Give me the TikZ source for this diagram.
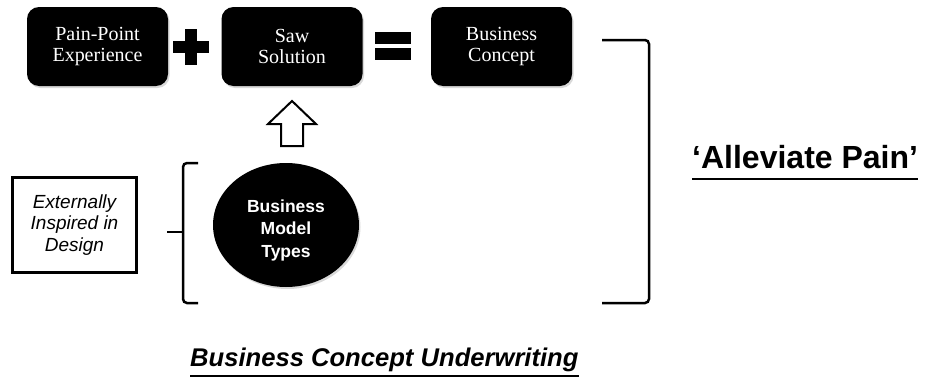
\documentclass[tikz,border=0pt]{standalone}
\usepackage{fontspec}
\setmainfont{Liberation Serif}
\setsansfont{Liberation Sans}
\usetikzlibrary{shapes.geometric,shadows}

\begin{document}
\begin{tikzpicture}[x=1pt, y=-1pt,
    step box/.style={fill=black, text=white, rounded corners=12pt, minimum width=141pt, minimum height=79pt,
        align=center, font=\fontsize{20}{21}\selectfont, inner sep=0pt,
        drop shadow={shadow xshift=1.5pt, shadow yshift=-2pt, opacity=.3}},
    bracket line/.style={line width=2.5pt, rounded corners=4pt},
    sign bar/.style={fill=black}]

\useasboundingbox (0,0) rectangle (935,383);

% top row
\node[step box] (pain) at (97.5,46.5) {Pain-Point\\Experience};
\node[step box] (saw) at (292,46.5) {Saw\\Solution};
\node[step box] (concept) at (501.5,46.5) {Business\\Concept};

% plus and equals
\coordinate (plus) at (191,46.5);
\fill[sign bar] ([xshift=-18pt,yshift=6pt]plus) rectangle ([xshift=18pt,yshift=-6pt]plus);
\fill[sign bar] ([xshift=-6pt,yshift=18pt]plus) rectangle ([xshift=6pt,yshift=-18pt]plus);
\coordinate (equals) at (393,46);
\fill[sign bar] ([xshift=-18pt,yshift=14pt]equals) rectangle ([xshift=18pt,yshift=2pt]equals);
\fill[sign bar] ([xshift=-18pt,yshift=-2pt]equals) rectangle ([xshift=18pt,yshift=-14pt]equals);

% hollow arrow up to the solution
\coordinate (tip) at (292,101);
\draw[line width=2pt, fill=white, line join=miter]
    (tip) -- ++(24,23) -- ++(-13,0) -- ++(0,22) -- ++(-22,0) -- ++(0,-22) -- ++(-13,0) -- cycle;

% lower part
\node[ellipse, fill=black, minimum width=146pt, minimum height=124pt, inner sep=0pt,
    drop shadow={shadow xshift=1.5pt, shadow yshift=-2pt, opacity=.3}] (types) at (286,225) {};
\node[text=white, align=center, font=\sffamily\bfseries\fontsize{17.5}{22.5}\selectfont]
    (typestext) at ([yshift=-5pt]types.center) {Business\\Model\\Types};
\node[draw, line width=2.5pt, minimum width=124pt, minimum height=95pt, inner sep=0pt, align=center,
    font=\sffamily\itshape\fontsize{19}{21.5}\selectfont] (design) at (74.5,225) {Externally\\Inspired in\\Design};

\coordinate (lb) at (183,232);
\draw[bracket line] (198,163) -- (183,163) -- (183,303) -- (198,303);
\draw[line width=2.5pt] (lb) -- (167,232);

\draw[bracket line] (602,40) -- (649,40) -- (649,303) -- (602,303);

% titles
\node[anchor=base west, inner sep=0pt, font=\sffamily\bfseries\fontsize{32}{36}\selectfont] (relief) at (692,168) {`Alleviate Pain'};
\draw[line width=2pt] ([yshift=-11pt]relief.base west) -- ([yshift=-11pt]relief.base east);

\node[anchor=base west, inner sep=0pt, font=\sffamily\bfseries\itshape\fontsize{25.6}{28}\selectfont] (underwriting) at (190,366) {Business Concept Underwriting};
\draw[line width=2pt] ([yshift=-10pt]underwriting.base west) -- ([yshift=-10pt]underwriting.base east);

\end{tikzpicture}
\end{document}
